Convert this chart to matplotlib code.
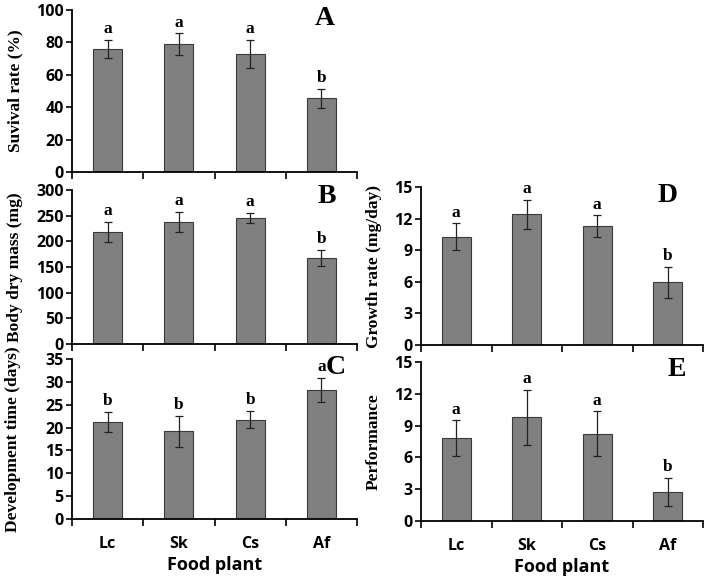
import matplotlib
matplotlib.use("Agg")
import matplotlib.pyplot as plt
import numpy as np

categories = ["Lc", "Sk", "Cs", "Af"]

survival = [76, 79, 73, 45.5]
survival_err = [5.5, 6.5, 8.5, 6]
survival_sig = ["a", "a", "a", "b"]

drymass = [218, 238, 246, 168]
drymass_err = [20, 20, 10, 16]
drymass_sig = ["a", "a", "a", "b"]

devtime = [21.2, 19.2, 21.7, 28.2]
devtime_err = [2.2, 3.4, 1.9, 2.6]
devtime_sig = ["b", "b", "b", "a"]

growth = [10.3, 12.4, 11.3, 5.95]
growth_err = [1.25, 1.35, 1.0, 1.5]
growth_sig = ["a", "a", "a", "b"]

perf = [7.8, 9.8, 8.25, 2.75]
perf_err = [1.7, 2.6, 2.1, 1.3]
perf_sig = ["a", "a", "a", "b"]

W, H = 710, 577
fig = plt.figure(figsize=(W / 100, H / 100), dpi=100)

SANS = "Open Sans"
SERIF = "Liberation Serif"


def box(x0, x1, ytop, ybot):
    return [x0 / W, (H - ybot) / H, (x1 - x0) / W, (ybot - ytop) / H]


panels = [
    dict(rect=box(72, 357, 10, 172), vals=survival, err=survival_err, sig=survival_sig,
         ylim=(0, 100), ticks=[0, 20, 40, 60, 80, 100], ylabel="Suvival rate (%)",
         letter="A", lpos=(0.888, 0.95), xlab=False, lx=-0.172),
    dict(rect=box(72, 357, 190, 344), vals=drymass, err=drymass_err, sig=drymass_sig,
         ylim=(0, 300), ticks=[0, 50, 100, 150, 200, 250, 300], ylabel="Body dry mass (mg)",
         letter="B", lpos=(0.895, 0.955), xlab=False, lx=-0.172),
    dict(rect=box(72, 357, 359, 519), vals=devtime, err=devtime_err, sig=devtime_sig,
         ylim=(0, 35), ticks=[0, 5, 10, 15, 20, 25, 30, 35], ylabel="Development time (days)",
         letter="C", lpos=(0.925, 0.95), xlab=True, lx=-0.18),
    dict(rect=box(421, 703, 187, 345), vals=growth, err=growth_err, sig=growth_sig,
         ylim=(0, 15), ticks=[0, 3, 6, 9, 12, 15], ylabel="Growth rate (mg/day)",
         letter="D", lpos=(0.876, 0.949), xlab=False, lx=-0.138),
    dict(rect=box(421, 703, 362, 521), vals=perf, err=perf_err, sig=perf_sig,
         ylim=(0, 15), ticks=[0, 3, 6, 9, 12, 15], ylabel="Performance",
         letter="E", lpos=(0.908, 0.95), xlab=True, lx=-0.138),
]

x = np.arange(len(categories))
for p in panels:
    ax = fig.add_axes(p["rect"])
    ax.bar(x, p["vals"], width=0.41, color="#808080", edgecolor="#3a3a3a", linewidth=0.8,
           yerr=p["err"], error_kw=dict(ecolor="#222222", elinewidth=0.9, capsize=3, capthick=0.9),
           zorder=2)
    ax.set_xlim(-0.5, 3.5)
    ax.set_ylim(*p["ylim"])
    ax.set_yticks(p["ticks"])
    ax.set_yticklabels([str(t) for t in p["ticks"]], fontfamily=SANS, fontweight="bold", fontsize=11.5)
    ax.set_xticks(x)
    ax.set_xticks(np.arange(-0.5, 4.0, 1.0), minor=True)
    ax.tick_params(axis="x", which="major", length=0, pad=12)
    ax.tick_params(axis="x", which="minor", length=5, width=1.2, direction="out")
    ax.tick_params(axis="y", which="major", length=4, width=1.2, direction="out", pad=2)
    if p["xlab"]:
        ax.set_xticklabels(categories, fontfamily=SANS, fontweight="bold", fontsize=11.5)
        ax.set_xlabel("Food plant", fontfamily=SANS, fontweight="bold", fontsize=13, labelpad=3)
    else:
        ax.set_xticklabels([])
    for s in ["top", "right"]:
        ax.spines[s].set_visible(False)
    for s in ["left", "bottom"]:
        ax.spines[s].set_linewidth(1.3)
        ax.spines[s].set_color("black")
    ax.set_ylabel(p["ylabel"], fontfamily=SERIF, fontweight="bold", fontsize=12.5)
    ax.yaxis.set_label_coords(p["lx"], 0.5)
    for xi, v, e, s in zip(x, p["vals"], p["err"], p["sig"]):
        ax.annotate(s, (xi, v + e), xytext=(0, 2), textcoords="offset points",
                    ha="center", va="bottom", fontfamily=SERIF, fontweight="bold",
                    fontsize=12.5, annotation_clip=False)
    ax.text(p["lpos"][0], p["lpos"][1], p["letter"], transform=ax.transAxes,
            ha="center", va="center", fontfamily=SERIF, fontweight="bold", fontsize=20)

fig.savefig("out.png", dpi=100)
